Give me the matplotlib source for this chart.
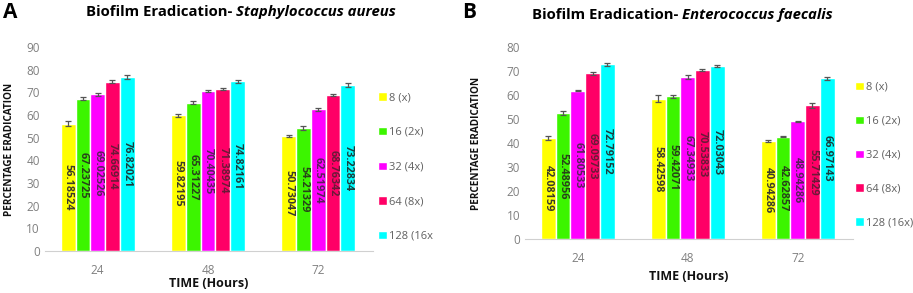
import matplotlib
matplotlib.use("Agg")
import matplotlib.pyplot as plt
import numpy as np

plt.rcParams['font.family'] = ['Open Sans', 'DejaVu Sans']

times = ["24", "48", "72"]
series_a = ["8 (x)", "16 (2x)", "32 (4x)", "64 (8x)", "128 (16x"]
series_b = ["8 (x)", "16 (2x)", "32 (4x)", "64 (8x)", "128 (16x)"]

# Panel A - Staphylococcus aureus (rows: series, cols: time)
vals_a = [
    [56.18524, 59.82195, 50.73047],
    [67.23725, 65.31227, 54.21329],
    [69.02526, 70.40435, 62.51974],
    [74.66914, 71.38974, 68.76342],
    [76.82021, 74.82161, 73.22834],
]
err_a = [
    [1.0, 0.6, 0.6],
    [0.6, 0.7, 0.9],
    [0.5, 0.5, 0.6],
    [0.6, 0.3, 0.3],
    [0.9, 0.7, 0.9],
]
# Panel B - Enterococcus faecalis
vals_b = [
    [42.08159, 58.42598, 40.94286],
    [52.48956, 59.42071, 42.62857],
    [61.80533, 67.34933, 48.94286],
    [69.09733, 70.53833, 55.71429],
    [72.79152, 72.03043, 66.97143],
]
err_b = [
    [1.0, 1.5, 0.5],
    [0.9, 0.5, 0.3],
    [0.2, 0.8, 0.4],
    [0.6, 0.4, 1.0],
    [0.7, 0.3, 0.6],
]

colors = ["#FFFF00", "#3CF500", "#FF00FF", "#FF0066", "#00FFFF"]
label_colors = ["#3a3a2a", "#28421a", "#5a1f5a", "#6a1a38", "#1a3d3d"]

fig = plt.figure(figsize=(9.13, 2.93), dpi=100)
axA = fig.add_axes([0.049, 0.143, 0.360, 0.697])
axB = fig.add_axes([0.575, 0.184, 0.359, 0.656])

def draw(ax, vals, errs, series, ymax):
    x = np.arange(len(times))
    n = len(series)
    step = 0.134
    for i in range(n):
        xs = x + (i - (n - 1) / 2) * step
        bars = ax.bar(xs, vals[i], width=step, color=colors[i], edgecolor="white",
                      linewidth=1.0, label=series[i], zorder=2)
        ax.errorbar(xs, vals[i], yerr=errs[i], fmt="none", ecolor="#555555",
                    elinewidth=0.9, capsize=2.5, capthick=0.9, zorder=3)
        for b, v in zip(bars, vals[i]):
            ax.text(b.get_x() + b.get_width() / 2, v / 2, f"{v:.5f}", rotation=-90,
                    ha="center", va="center", fontsize=7.8, fontweight="bold",
                    color=label_colors[i], zorder=4)
    ax.set_xlim(-0.48, 2.5)
    ax.set_ylim(0, ymax)
    ax.set_yticks(np.arange(0, ymax + 1, 10))
    ax.set_xticks(x)
    ax.set_xticklabels(times)
    for s in ["top", "right", "left"]:
        ax.spines[s].set_visible(False)
    ax.spines["bottom"].set_color("#d0d0d0")
    ax.tick_params(axis="both", length=0, colors="#808080", labelsize=8.5)
    ax.tick_params(axis="x", pad=9)
    ax.set_xlabel("TIME (Hours)", fontsize=9, fontweight="bold", color="#111111")
    ax.set_ylabel("PERCENTAGE ERADICATION", fontsize=7.2, fontweight="bold", color="#111111")

draw(axA, vals_a, err_a, series_a, 90)
draw(axB, vals_b, err_b, series_b, 80)
axA.xaxis.set_label_coords(0.5, -0.125)
axB.xaxis.set_label_coords(0.5, -0.16)
axA.yaxis.set_label_coords(-0.09, 0.5)
axB.yaxis.set_label_coords(-0.13, 0.5)

legA = axA.legend(loc="upper left", bbox_to_anchor=(1.0, 0.80), frameon=False,
                  fontsize=8, labelspacing=2.12, handlelength=0.8, handleheight=0.8,
                  handletextpad=0.2, borderaxespad=0.0, labelcolor="#606060")
legB = axB.legend(loc="upper left", bbox_to_anchor=(1.0, 0.83), frameon=False,
                  fontsize=8, labelspacing=2.05, handlelength=0.8, handleheight=0.8,
                  handletextpad=0.2, borderaxespad=0.0, borderpad=0.2,
                  labelcolor="#606060")

def title(xc, y, species):
    t1 = fig.text(0, y, "Biofilm Eradication- ", fontsize=10.7, fontweight="bold",
                  ha="left", va="center")
    t2 = fig.text(0, y, species, fontsize=10.7, fontweight="bold", style="italic",
                  ha="left", va="center")
    fig.canvas.draw()
    r = fig.canvas.get_renderer()
    w1 = t1.get_window_extent(r).width / fig.bbox.width
    w2 = t2.get_window_extent(r).width / fig.bbox.width
    x0 = xc - (w1 + w2) / 2
    t1.set_x(x0)
    t2.set_x(x0 + w1)

title(241 / 913, 1 - 12 / 293, "Staphylococcus aureus")
title(682 / 913, 1 - 15 / 293, "Enterococcus faecalis")
fig.text(3 / 913, 1 - 12 / 293, "A", fontsize=15, fontweight="bold", va="center", ha="left")
fig.text(462 / 913, 1 - 12 / 293, "B", fontsize=15, fontweight="bold", va="center", ha="left")

fig.savefig("out.png", dpi=100)
